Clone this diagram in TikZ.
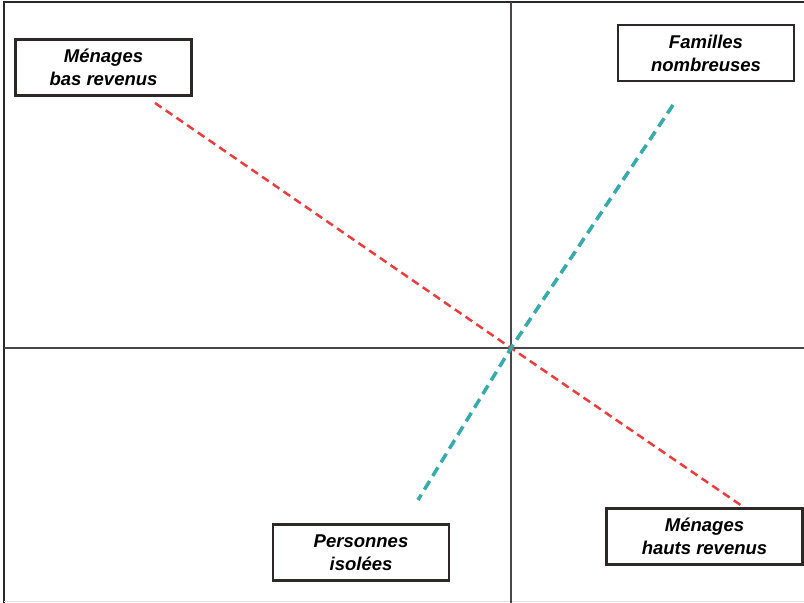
\documentclass[tikz,border=0pt]{standalone}
\usepackage{fontspec}
\setmainfont{Liberation Sans}
\begin{document}
\begin{tikzpicture}[x=1pt,y=-1pt,
  frameline/.style={line width=2pt,draw={rgb,255:red,40;green,40;blue,40}},
  axisline/.style={line width=2.2pt,draw={rgb,255:red,75;green,70;blue,70}},
  labelbox/.style={draw={rgb,255:red,45;green,40;blue,40},line width=2.4pt,fill=white,
    minimum width=176pt,minimum height=56pt,align=center,inner sep=0pt,
    font=\fontsize{18.5}{23}\selectfont\bfseries\itshape},
  redline/.style={draw={rgb,255:red,232;green,62;blue,62},line width=2.5pt,dash pattern=on 8pt off 5pt},
  tealline/.style={draw={rgb,255:red,55;green,170;blue,172},line width=3.5pt,dash pattern=on 10pt off 6pt}]
\useasboundingbox (0,0) rectangle (804,603);
% outer frame and faint bottom rule
\draw[frameline] (4,603) -- (4,2) -- (804,2);
\draw[line width=1pt,draw=black!12] (4,601) -- (804,601);
% axes
\coordinate (O) at (511,348);
\draw[axisline] (511,2) -- (511,603);
\draw[axisline] (4,348) -- (804,348);
% factor directions
\coordinate (rA) at (155,103);
\coordinate (rB) at (745,508);
\coordinate (tA) at (673,105);
\coordinate (tB) at (418,500);
\draw[redline] (rA) -- (O) -- (rB);
\draw[tealline] (tA) -- (O) -- (tB);
% labels
\node[labelbox] (mbr) at (103.5,67.5) {Ménages\\bas revenus};
\node[labelbox] (fn) at (706,53) {Familles\\nombreuses};
\node[labelbox] (pi) at (361,552.5) {Personnes\\isolées};
\node[labelbox,minimum width=196pt] (mhr) at (704.5,536.5) {Ménages\\hauts revenus};
\end{tikzpicture}
\end{document}
